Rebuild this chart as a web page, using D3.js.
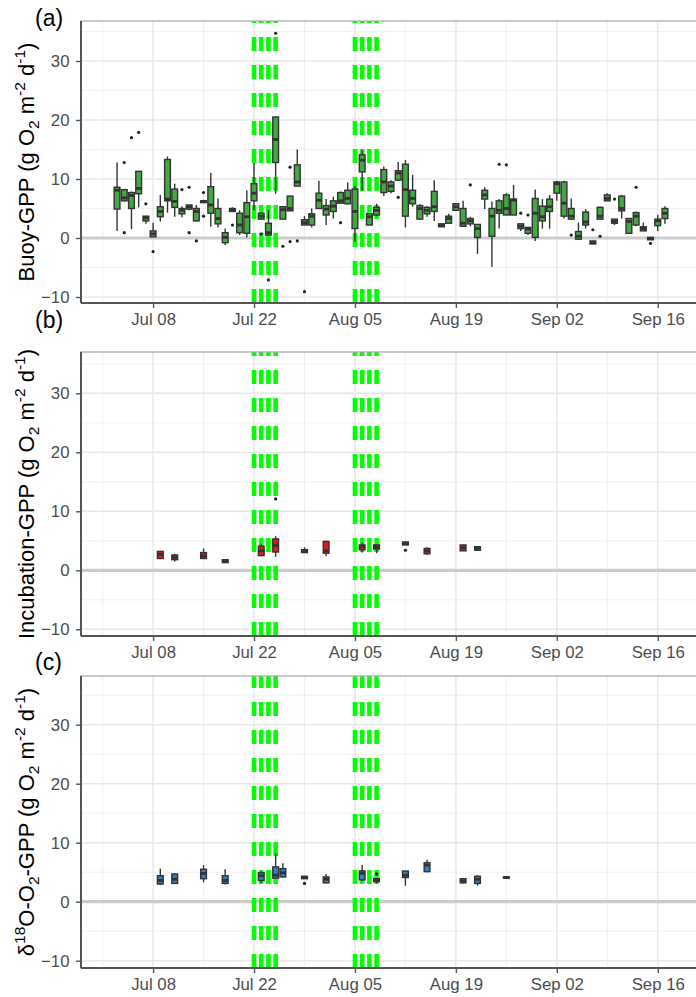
<!DOCTYPE html>
<html>
<head>
<meta charset="utf-8">
<script src="https://cdn.jsdelivr.net/npm/d3@7"></script>
<style>
  body { margin: 0; background: #fff; }
  text { font-family: "Liberation Sans", Arial, sans-serif; }
</style>
</head>
<body>
<script>
// ---- data ----
const buoyDates = ["07-03","07-04","07-05","07-06","07-07","07-08","07-09","07-10","07-11","07-12",
  "07-13","07-14","07-15","07-16","07-17","07-18","07-19","07-20","07-21","07-22","07-23","07-24",
  "07-25","07-26","07-27","07-28","07-29","07-30","07-31","08-01","08-02","08-03","08-04","08-05",
  "08-06","08-07","08-08","08-09","08-10","08-11","08-12","08-13","08-14","08-15","08-16","08-17",
  "08-18","08-19","08-20","08-21","08-22","08-23","08-24","08-25","08-26","08-27","08-28","08-29",
  "08-30","08-31","09-01","09-02","09-03","09-04","09-05","09-06","09-07","09-08","09-09","09-10",
  "09-11","09-12","09-13","09-14","09-15","09-16","09-17"];
const buoyLow  = [1.2,6.2,1.5,5.2,2.4,0.2,2.8,4.3,3.6,3.5,4.7,2.8,6.0,1.9,1.8,-1.2,4.5,0.5,0.1,4.7,3.1,0.5,
  7.5,3.2,4.6,8.7,2.2,1.8,4.9,2.2,3.3,5.9,5.7,-0.6,8.1,2.2,3.7,7.1,7.6,9.7,1.8,5.3,3.1,3.6,2.9,1.9,
  2.5,4.7,1.9,2.0,-2.7,4.9,-4.9,1.6,3.9,3.9,1.2,0.5,-0.5,1.6,1.6,6.3,3.3,3.1,-0.3,1.6,-1.0,3.1,6.3,2.2,
  3.3,0.8,2.0,1.2,-0.3,1.2,2.4];
const buoyQ1   = [4.9,6.3,5.0,7.5,2.9,0.2,3.6,6.3,5.2,4.1,4.9,2.9,6.0,4.2,2.4,-0.8,4.5,0.9,0.8,6.3,3.2,0.5,
  12.8,3.2,4.6,8.8,2.2,2.2,5.0,3.9,4.5,5.9,5.8,1.6,11.2,2.2,3.9,7.7,7.9,9.8,3.7,5.8,3.2,4.1,4.5,1.9,
  2.5,4.7,2.0,2.4,0.1,6.6,0.3,4.2,3.9,3.9,1.6,0.8,0.1,2.9,4.5,7.6,3.7,3.2,-0.2,2.2,-1.0,3.2,6.3,2.5,
  4.6,0.8,2.2,1.2,-0.3,2.1,3.3];
const buoyMed  = [8.1,6.8,7.2,8.4,3.4,0.7,4.5,6.6,6.2,4.7,5.3,4.5,6.2,5.6,3.3,0.1,4.7,2.2,3.6,7.6,3.7,0.9,
  16.7,4.8,5.0,9.5,2.6,3.7,6.4,4.9,5.4,6.3,6.7,4.5,13.2,3.6,4.7,9.5,8.8,11.0,8.2,6.7,5.0,4.7,5.3,2.2,
  3.3,5.3,2.5,2.9,1.6,7.3,3.7,4.7,5.0,6.4,2.0,1.5,4.2,3.6,5.3,9.2,5.9,3.7,0.3,2.7,-0.8,3.7,6.7,2.8,
  5.0,2.8,3.7,1.6,-0.1,2.9,4.2];
const buoyQ3   = [8.6,8.2,7.7,11.3,3.7,1.2,5.3,13.3,8.3,5.0,5.6,5.0,6.3,8.7,5.0,0.9,5.0,4.2,6.0,9.2,4.2,2.5,
  20.5,5.3,7.1,12.4,3.1,4.1,7.6,5.5,6.3,7.7,8.1,8.3,14.1,4.1,5.2,11.6,9.5,11.4,12.5,8.1,5.5,5.2,7.9,2.4,
  3.7,5.8,5.0,3.3,2.3,8.1,5.0,6.3,7.3,6.6,2.4,1.8,6.7,5.4,6.6,9.5,9.5,5.0,1.1,4.4,-0.5,5.2,7.3,3.2,
  7.1,3.3,4.3,1.9,0.1,3.2,5.0];
const buoyHigh = [12.8,8.3,7.9,11.3,3.7,2.6,7.3,13.8,9.2,5.4,5.6,5.6,6.5,11.0,6.7,1.6,5.2,4.7,8.1,12.7,4.3,4.7,
  20.6,5.4,7.2,15.0,3.7,5.0,9.7,6.6,7.0,7.9,9.4,8.8,14.9,4.2,5.8,12.1,9.8,12.9,13.2,10.7,5.7,5.4,9.8,2.4,
  4.1,5.9,6.3,3.6,2.3,8.6,6.2,6.6,7.6,9.0,2.4,1.8,8.2,6.6,7.3,9.7,9.7,6.7,2.6,4.9,-0.5,5.3,7.6,3.2,
  7.3,3.3,4.5,2.6,0.2,3.9,5.4];
const buoyOutliers = [["07-04",12.8],["07-04",0.9],["07-05",17.0],["07-06",17.9],["07-07",5.8],["07-08",-2.3],
  ["07-12",8.2],["07-13",8.6],["07-13",0.9],["07-14",-0.5],["07-15",7.7],["07-15",3.7],["07-19",2.2],
  ["07-23",0.7],["07-24",-7.1],["07-25",34.7],["07-26",-1.4],["07-27",12.0],["07-27",-0.6],["07-28",-0.5],
  ["07-29",-9.1],["08-03",2.6],["08-11",6.9],["08-21",9.0],["08-25",12.5],["08-26",12.4],["08-28",4.2],
  ["08-29",3.9],["09-04",0.5],["09-07",1.4],["09-08",0.3],["09-10",6.6],["09-13",8.6],["09-15",-0.9]];

const incDates = ["07-09","07-11","07-15","07-18","07-23","07-25","07-29","08-01","08-06","08-08","08-12","08-15","08-20","08-22"];
const incLow  = [1.9,1.5,1.9,1.3,2.4,2.3,3.0,2.4,3.0,2.9,4.3,2.6,3.3,3.3];
const incQ1   = [2.0,1.8,2.0,1.3,2.5,3.1,3.0,2.9,3.5,3.6,4.3,2.8,3.3,3.4];
const incMed  = [2.7,2.2,2.4,1.5,3.3,4.2,3.2,3.3,4.0,4.0,4.5,3.3,3.8,3.7];
const incQ3   = [3.2,2.6,3.0,1.8,4.1,5.3,3.5,4.9,4.3,4.3,4.8,3.7,4.3,4.0];
const incHigh = [3.3,2.8,3.7,1.9,4.5,5.8,3.9,5.0,4.7,4.3,4.9,3.9,4.3,4.1];
const incOutliers = [["07-25",12.1],["08-12",3.4]];

const isoDates = ["07-09","07-11","07-15","07-18","07-23","07-25","07-26","07-29","08-01","08-06","08-08","08-12","08-15","08-20","08-22","08-26"];
const isoLow  = [2.8,3.0,3.3,2.9,3.2,4.0,4.1,3.9,3.1,3.5,3.1,2.7,5.0,3.1,2.7,4.0];
const isoQ1   = [3.0,3.1,3.9,3.1,3.6,4.0,4.2,3.9,3.2,3.7,3.4,4.1,5.1,3.2,3.1,4.0];
const isoMed  = [3.6,3.8,4.8,3.6,4.4,4.5,4.9,4.1,3.8,4.8,3.7,4.5,6.2,3.5,3.8,4.1];
const isoQ3   = [4.4,4.7,5.5,4.4,4.9,5.9,5.6,4.3,4.2,5.2,3.9,5.2,6.6,3.9,4.3,4.2];
const isoHigh = [5.6,4.8,6.2,5.5,5.1,8.2,6.5,4.4,4.7,6.2,3.9,5.2,7.1,3.9,4.5,4.2];
const isoOutliers = [["07-29",3.1],["08-08",4.7]];

const markerDates = ["07-22","07-23","07-24","07-25","08-05","08-06","08-07","08-08"];
const xTickDates  = ["07-08","07-22","08-05","08-19","09-02","09-16"];
const xMinorDates = ["07-01","07-15","07-29","08-12","08-26","09-09","09-23"];
const yTicks = [-10, 0, 10, 20, 30];
const yMinor = [-5, 5, 15, 25, 35];

const parse = s => d3.utcParse("%Y-%m-%d")("2019-" + s);

// ---- layout ----
const W = 696, H = 997;
const svg = d3.select("body").append("svg").attr("width", W).attr("height", H);

const x = d3.scaleUtc()
  .domain([parse("06-28"), parse("09-22")])
  .range([81, 701]);
const dayPx = x(parse("07-09")) - x(parse("07-08"));

const panels = [
  { tag: "(a)", tagY: 25.5, top: 21, bottom: 303, zero: 238, fill: "#43a843",
    dates: buoyDates, lo: buoyLow, q1: buoyQ1, med: buoyMed, q3: buoyQ3, hi: buoyHigh, out: buoyOutliers,
    title: [["Buoy-GPP (g O", 0], ["2", 1], [" m", 0], ["-2", 2], [" d", 0], ["-1", 2], [")", 0]] },
  { tag: "(b)", tagY: 328, top: 352, bottom: 636, zero: 570.3, fill: "#e8161b",
    dates: incDates, lo: incLow, q1: incQ1, med: incMed, q3: incQ3, hi: incHigh, out: incOutliers,
    title: [["Incubation-GPP (g O", 0], ["2", 1], [" m", 0], ["-2", 2], [" d", 0], ["-1", 2], [")", 0]] },
  { tag: "(c)", tagY: 670, top: 676, bottom: 968, zero: 901.7, fill: "#2f7fc1",
    dates: isoDates, lo: isoLow, q1: isoQ1, med: isoMed, q3: isoQ3, hi: isoHigh, out: isoOutliers,
    title: [["\u03b4", 0], ["18", 2], ["O-O", 0], ["2", 1], ["-GPP (g O", 0], ["2", 1], [" m", 0], ["-2", 2], [" d", 0], ["-1", 2], [")", 0]] }
];

panels.forEach((p, i) => {
  const y = d3.scaleLinear().domain([-10, 30]).range([p.zero + 59, p.zero - 177]);
  const left = 81, right = 701;
  const g = svg.append("g");

  const clipId = "clip" + i;
  g.append("clipPath").attr("id", clipId)
    .append("rect").attr("x", left).attr("y", p.top).attr("width", right - left).attr("height", p.bottom - p.top);
  const plot = g.append("g").attr("clip-path", `url(#${clipId})`);

  // grid
  plot.selectAll(".ym").data(yMinor).join("line")
    .attr("x1", left).attr("x2", right).attr("y1", d => y(d)).attr("y2", d => y(d))
    .attr("stroke", "#ececec").attr("stroke-width", 0.8);
  plot.selectAll(".xm").data(xMinorDates).join("line")
    .attr("x1", d => x(parse(d))).attr("x2", d => x(parse(d))).attr("y1", p.top).attr("y2", p.bottom)
    .attr("stroke", "#ececec").attr("stroke-width", 0.8);
  plot.selectAll(".yM").data(yTicks).join("line")
    .attr("x1", left).attr("x2", right).attr("y1", d => y(d)).attr("y2", d => y(d))
    .attr("stroke", "#e8e8e8").attr("stroke-width", 1.5);
  plot.selectAll(".xM").data(xTickDates).join("line")
    .attr("x1", d => x(parse(d))).attr("x2", d => x(parse(d))).attr("y1", p.top).attr("y2", p.bottom)
    .attr("stroke", "#e8e8e8").attr("stroke-width", 1.5);

  // zero line
  plot.append("line")
    .attr("x1", left).attr("x2", right).attr("y1", y(0)).attr("y2", y(0))
    .attr("stroke", "#cccccc").attr("stroke-width", 3.2);

  // green dashed markers (dash pattern starts from the bottom)
  plot.selectAll(".mk").data(markerDates).join("line")
    .attr("x1", d => x(parse(d))).attr("x2", d => x(parse(d)))
    .attr("y1", p.bottom).attr("y2", p.top)
    .attr("stroke", "#00ff00").attr("stroke-width", 4.6)
    .attr("stroke-dasharray", "14,14");

  // boxplots
  const bw = dayPx * 0.8;
  const rows = p.dates.map((d, k) => ({ date: parse(d), lo: p.lo[k], q1: p.q1[k], med: p.med[k], q3: p.q3[k], hi: p.hi[k] }));
  const bx = plot.append("g").selectAll("g").data(rows).join("g");
  bx.append("line")
    .attr("x1", d => x(d.date)).attr("x2", d => x(d.date))
    .attr("y1", d => y(d.hi)).attr("y2", d => y(d.q3))
    .attr("stroke", "#333").attr("stroke-width", 1.4);
  bx.append("line")
    .attr("x1", d => x(d.date)).attr("x2", d => x(d.date))
    .attr("y1", d => y(d.q1)).attr("y2", d => y(d.lo))
    .attr("stroke", "#333").attr("stroke-width", 1.4);
  bx.append("rect")
    .attr("x", d => x(d.date) - bw / 2).attr("width", bw)
    .attr("y", d => y(d.q3)).attr("height", d => Math.max(0.5, y(d.q1) - y(d.q3)))
    .attr("fill", p.fill).attr("stroke", "#333").attr("stroke-width", 1.4);
  bx.append("line")
    .attr("x1", d => x(d.date) - bw / 2).attr("x2", d => x(d.date) + bw / 2)
    .attr("y1", d => y(d.med)).attr("y2", d => y(d.med))
    .attr("stroke", "#333").attr("stroke-width", 2.8);

  plot.append("g").selectAll("circle").data(p.out).join("circle")
    .attr("cx", d => x(parse(d[0]))).attr("cy", d => y(d[1]))
    .attr("r", 1.6).attr("fill", "#222");

  // panel border: light top/right, dark axis lines left/bottom
  g.append("rect")
    .attr("x", left).attr("y", p.top).attr("width", right - left).attr("height", p.bottom - p.top)
    .attr("fill", "none").attr("stroke", "#a6a6a6").attr("stroke-width", 1.2);

  // axes
  const yAxis = g.append("g").attr("transform", `translate(${left},0)`)
    .call(d3.axisLeft(y).tickValues(yTicks).tickSize(5).tickPadding(6.5));
  const xAxis = g.append("g").attr("transform", `translate(0,${p.bottom})`)
    .call(d3.axisBottom(x).tickValues(xTickDates.map(parse)).tickFormat(d3.utcFormat("%b %d")).tickSize(5).tickPadding(5.5));
  [yAxis, xAxis].forEach(a => {
    a.select(".domain").attr("stroke", "#555").attr("stroke-width", 2);
    a.selectAll(".tick line").attr("stroke", "#555").attr("stroke-width", 1.4);
    a.selectAll(".tick text").attr("fill", "#4d4d4d").style("font-size", "16.8px");
  });
  xAxis.select(".domain").attr("d", `M${left},0H${right}`);
  yAxis.select(".domain").attr("d", `M0,${p.top}V${p.bottom}`);

  // y title
  const cy = (p.top + p.bottom) / 2;
  const t = g.append("text")
    .attr("transform", `translate(34,${cy}) rotate(-90)`)
    .attr("text-anchor", "middle")
    .style("font-size", "22px").attr("fill", "#000");
  let shift = 0;
  p.title.forEach(([s, kind]) => {
    const target = kind === 1 ? 5 : kind === 2 ? -9.5 : 0;
    t.append("tspan")
      .attr("dy", target - shift)
      .style("font-size", kind ? "15.5px" : "22px")
      .text(s);
    shift = target;
  });

  // panel tag
  g.append("text").attr("x", 35).attr("y", p.tagY)
    .style("font-size", "23px").attr("fill", "#000").text(p.tag);
});
</script>
</body>
</html>
